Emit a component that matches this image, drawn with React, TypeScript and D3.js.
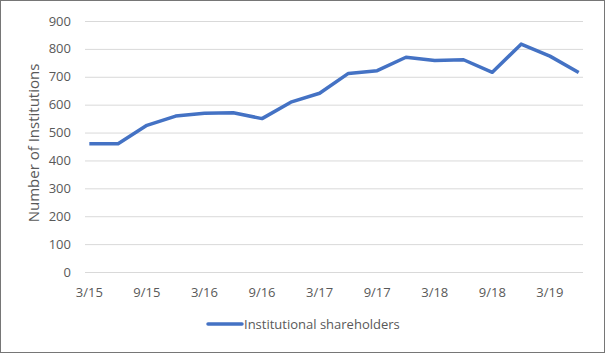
import React, { useEffect, useRef } from 'react';
import * as d3 from 'd3';

// quarterly data
const quarters = ['3/15', '6/15', '9/15', '12/15', '3/16', '6/16', '9/16', '12/16', '3/17',
  '6/17', '9/17', '12/17', '3/18', '6/18', '9/18', '12/18', '3/19', '6/19'];
const institutions = [460, 460, 526, 559, 569, 571, 550, 609, 641,
  712, 722, 770, 758, 761, 716, 817, 774, 715];
const yTicks = [0, 100, 200, 300, 400, 500, 600, 700, 800, 900];
const seriesName = 'Institutional shareholders';

const App = () => {
  const svgRef = useRef<SVGSVGElement>(null);

  useEffect(() => {
    const svg = d3.select(svgRef.current);
    svg.selectAll('*').remove();

    const W = 605, H = 353;
    const margin = { top: 21, right: 22, bottom: 81, left: 85 };
    const font = "'Open Sans', 'Noto Sans', sans-serif";

    // frame
    svg.append('rect')
      .attr('x', 0.5).attr('y', 0.5)
      .attr('width', W - 1).attr('height', H - 1)
      .attr('fill', '#fff')
      .attr('stroke', '#767676');

    const x = d3.scalePoint<string>()
      .domain(quarters)
      .range([margin.left, W - margin.right])
      .padding(0.15);

    const y = d3.scaleLinear()
      .domain([0, 900])
      .range([H - margin.bottom, margin.top]);

    // gridlines
    svg.append('g')
      .selectAll('line')
      .data(yTicks)
      .enter().append('line')
      .attr('x1', margin.left)
      .attr('x2', W - margin.right)
      .attr('y1', d => y(d) + 0.5)
      .attr('y2', d => y(d) + 0.5)
      .attr('stroke', '#d9d9d9')
      .attr('stroke-width', 1);

    // y labels
    svg.append('g')
      .selectAll('text')
      .data(yTicks)
      .enter().append('text')
      .attr('x', 71)
      .attr('y', d => y(d))
      .attr('dy', '0.35em')
      .attr('text-anchor', 'end')
      .attr('font-family', font)
      .attr('font-size', 13)
      .attr('fill', '#595959')
      .text(d => d);

    // x labels, every other quarter
    svg.append('g')
      .selectAll('text')
      .data(quarters.filter((d, i) => i % 2 === 0))
      .enter().append('text')
      .attr('x', d => x(d)!)
      .attr('y', 297)
      .attr('text-anchor', 'middle')
      .attr('font-family', font)
      .attr('font-size', 13)
      .attr('fill', '#595959')
      .text(d => d);

    // axis title
    svg.append('text')
      .attr('transform', `translate(39,143) rotate(-90)`)
      .attr('text-anchor', 'middle')
      .attr('font-family', font)
      .attr('font-size', 15)
      .attr('fill', '#595959')
      .text('Number of Institutions');

    const line = d3.line<number>()
      .x((d, i) => x(quarters[i])!)
      .y(d => y(d));

    svg.append('path')
      .datum(institutions)
      .attr('d', line)
      .attr('fill', 'none')
      .attr('stroke', '#4472c4')
      .attr('stroke-width', 3.5)
      .attr('stroke-linejoin', 'round');

    // legend
    const legend = svg.append('g');
    legend.append('line')
      .attr('x1', 208).attr('x2', 242)
      .attr('y1', 324).attr('y2', 324)
      .attr('stroke', '#4472c4')
      .attr('stroke-width', 3.5)
      .attr('stroke-linecap', 'round');
    legend.append('text')
      .attr('x', 244)
      .attr('y', 324)
      .attr('dy', '0.35em')
      .attr('font-family', font)
      .attr('font-size', 13)
      .attr('fill', '#595959')
      .text(seriesName);
  }, []);

  return (
    <svg ref={svgRef} width={605} height={353}
      style={{ position: 'absolute', left: 0, top: 0, display: 'block' }} />
  );
};

export default App;
